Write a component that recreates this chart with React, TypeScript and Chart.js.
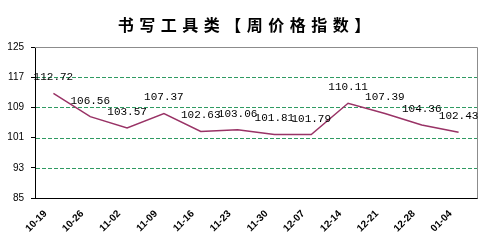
import React, { useEffect, useRef } from "react";
import { Chart, registerables } from "chart.js";

Chart.register(...registerables);

const TITLE = "书写工具类【周价格指数】";
const categories = ["10-19", "10-26", "11-02", "11-09", "11-16", "11-23", "11-30", "12-07", "12-14", "12-21", "12-28", "01-04"];
const indexValues = [112.72, 106.56, 103.57, 107.37, 102.63, 103.06, 101.81, 101.79, 110.11, 107.39, 104.36, 102.43];
const yMin = 85;
const yMax = 125;
const yStep = 8;

const LINE_COLOR = "#993366";
const GRID_COLOR = "#2f9a62";
const FRAME_COLOR = "#8c8c8c";

const decorPlugin = {
  id: "decor",
  beforeDatasetsDraw(chart: any) {
    const ctx = chart.ctx;
    const area = chart.chartArea;
    const ys = chart.scales.y;
    ctx.save();
    ctx.strokeStyle = GRID_COLOR;
    ctx.lineWidth = 1;
    ctx.setLineDash([4, 2]);
    ys.ticks.forEach((t: any) => {
      if (t.value === yMin || t.value === yMax) return;
      const y = Math.round(ys.getPixelForValue(t.value)) + 0.5;
      ctx.beginPath();
      ctx.moveTo(area.left + 1, y);
      ctx.lineTo(area.right, y);
      ctx.stroke();
    });
    ctx.restore();
  },
  afterDraw(chart: any) {
    const ctx = chart.ctx;
    const area = chart.chartArea;
    ctx.save();
    ctx.strokeStyle = FRAME_COLOR;
    ctx.lineWidth = 1;
    ctx.setLineDash([]);
    ctx.beginPath();
    ctx.moveTo(area.left, Math.round(area.top) + 0.5);
    ctx.lineTo(Math.round(area.right) + 0.5, Math.round(area.top) + 0.5);
    ctx.lineTo(Math.round(area.right) + 0.5, Math.round(area.bottom) + 0.5);
    ctx.stroke();
    ctx.restore();

    const meta = chart.getDatasetMeta(0);
    ctx.save();
    ctx.fillStyle = "#000";
    ctx.font = "11px 'Liberation Mono', monospace";
    ctx.textAlign = "center";
    ctx.textBaseline = "middle";
    meta.data.forEach((pt: any, i: number) => {
      const v = chart.data.datasets[0].data[i] as number;
      ctx.fillText(v.toFixed(2), pt.x, pt.y - 16);
    });
    ctx.restore();

    ctx.save();
    ctx.fillStyle = "#000";
    ctx.font = "bold 16px 'Noto Sans CJK SC', sans-serif";
    (ctx as any).letterSpacing = "5.5px";
    ctx.textBaseline = "middle";
    ctx.textAlign = "left";
    const w = ctx.measureText(TITLE).width - 5.5;
    ctx.fillText(TITLE, 244 - w / 2, 25);
    ctx.restore();
  },
};

export default function App() {
  const ref = useRef<HTMLCanvasElement | null>(null);
  useEffect(() => {
    if (!ref.current) return;
    const chart = new Chart(ref.current, {
      type: "line",
      data: {
        labels: categories,
        datasets: [
          {
            data: indexValues,
            borderColor: LINE_COLOR,
            backgroundColor: LINE_COLOR,
            borderWidth: 1.5,
            pointRadius: 0,
            tension: 0,
            fill: false,
          },
        ],
      },
      options: {
        animation: false,
        responsive: true,
        maintainAspectRatio: false,
        layout: { padding: { left: 0, top: 47, right: 22, bottom: 0 } },
        plugins: {
          legend: { display: false },
          title: { display: false },
          tooltip: { enabled: false },
        },
        scales: {
          x: {
            type: "category",
            offset: true,
            grid: { display: false, drawTicks: false },
            border: { display: true, color: "#000", width: 1 },
            ticks: {
              color: "#000",
              font: { family: "'Liberation Sans', Arial, sans-serif", size: 10, weight: "bold" },
              minRotation: 45,
              maxRotation: 45,
              autoSkip: false,
              labelOffset: -8,
              padding: 10,
            },
            afterFit(scale: any) {
              scale.height = 46;
            },
          },
          y: {
            min: yMin,
            max: yMax,
            grid: {
              drawOnChartArea: false,
              tickColor: "#000",
              tickLength: 4,
              drawTicks: true,
              lineWidth: 1,
            },
            border: { display: true, color: "#000", width: 1 },
            ticks: {
              stepSize: yStep,
              color: "#000",
              padding: 7,
              font: { family: "'Liberation Sans', Arial, sans-serif", size: 10 },
            },
            afterFit(scale: any) {
              scale.width = 35;
            },
          },
        },
      },
      plugins: [decorPlugin],
    });
    return () => chart.destroy();
  }, []);
  return (
    <div style={{ position: "fixed", left: 0, top: 0, width: 499, height: 244, background: "#fff" }}>
      <canvas ref={ref} />
    </div>
  );
}
